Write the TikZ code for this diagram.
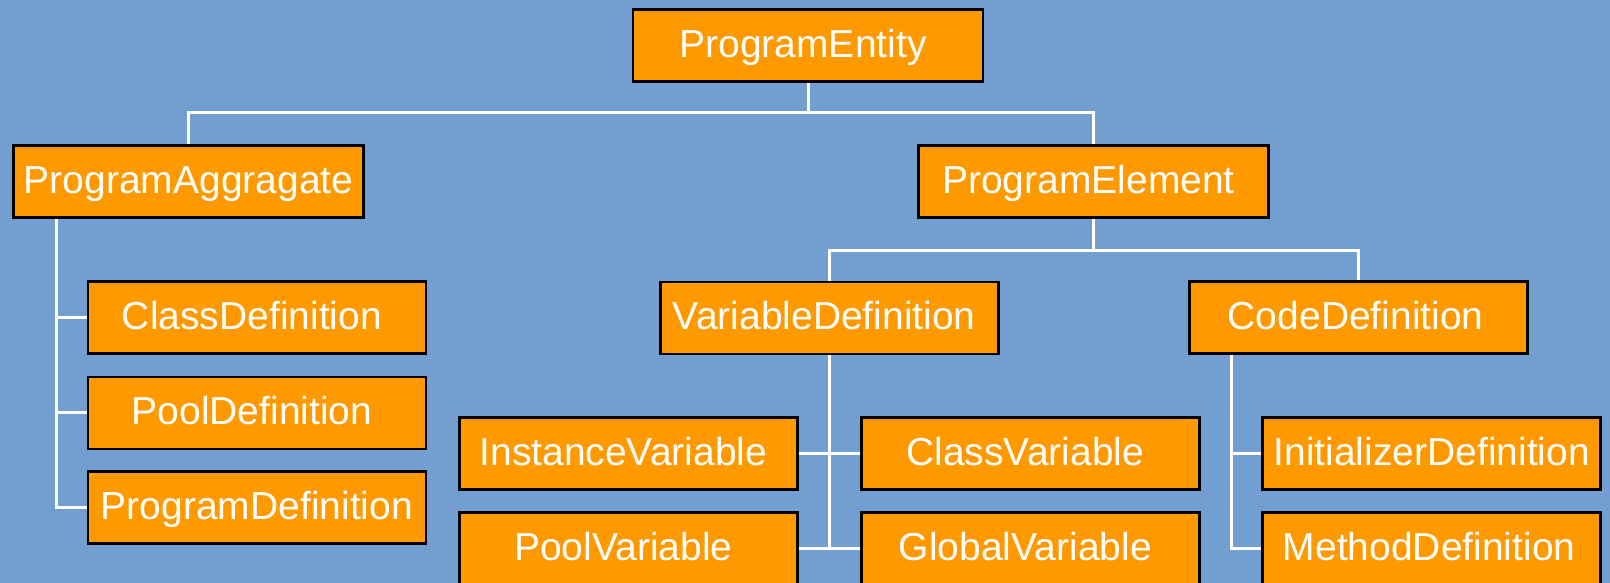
\documentclass[tikz,border=0pt]{standalone}
\usepackage{fontspec}
\setmainfont{Liberation Sans}
\definecolor{bgblue}{RGB}{114,159,207}
\definecolor{boxorange}{RGB}{255,153,0}
\tikzset{
  classbox/.style={draw=black, line width=2.5pt, fill=boxorange, text=white,
    minimum width=338pt, minimum height=72pt, inner sep=0pt,
    text height=28pt, text depth=4pt,
    font=\fontsize{39}{39}\selectfont},
  widebox/.style={classbox, minimum width=350pt},
  % nudge the label a little to the left of the box centre
  nudge/.style={execute at end node={\hspace*{#1}}},
  nudge/.default=10pt,
  link/.style={draw=white, line width=3pt}
}
\begin{document}
\begin{tikzpicture}[x=1pt,y=-1pt]
  \fill[bgblue] (0,0) rectangle (1610,583);
  \useasboundingbox (0,0) rectangle (1610,583);
  \clip (0,0) rectangle (1610,583);

  % tree levels
  \node[widebox,nudge] (entity)    at (808,45.5)    {ProgramEntity};
  \node[widebox]       (aggregate) at (188.7,181.5) {ProgramAggragate};
  \node[widebox,nudge] (element)   at (1093.5,181.3){ProgramElement};

  \node[classbox,nudge] (classdef) at (257,317.7)   {ClassDefinition};
  \node[classbox,nudge] (pooldef)  at (257,412.8)   {PoolDefinition};
  \node[classbox]       (progdef)  at (257,507.5)   {ProgramDefinition};

  \node[classbox,nudge]      (vardef)  at (829.3,317.8) {VariableDefinition};
  \node[classbox,nudge=6pt]  (codedef) at (1358.7,317.7){CodeDefinition};

  \node[classbox,nudge] (instvar)  at (628.3,453.5) {InstanceVariable};
  \node[classbox,nudge] (classvar) at (1030.3,453.5){ClassVariable};
  \node[classbox,nudge] (poolvar)  at (628.3,548.7) {PoolVariable};
  \node[classbox,nudge] (globvar)  at (1030.3,548.7){GlobalVariable};

  \node[classbox]           (initdef) at (1431.7,453.5){InitializerDefinition};
  \node[classbox,nudge=5pt] (methdef) at (1431.7,548.7){MethodDefinition};

  % bus coordinates
  \coordinate (busA) at (808,113);
  \coordinate (busB) at (1093.5,250);
  \coordinate (trunkA) at (56.7,0);
  \coordinate (trunkC) at (1231.7,0);

  % ProgramEntity -> children
  \draw[link] (entity.south) -- (busA);
  \draw[link] (aggregate.north) |- (busA) -| (element.north);

  % ProgramElement -> children
  \draw[link] (element.south) -- (busB);
  \draw[link] (vardef.north) |- (busB) -| (codedef.north);

  % ProgramAggragate -> definitions
  \draw[link] (trunkA |- aggregate.south) -- (trunkA |- progdef.west) -- (progdef.west);
  \draw[link] (trunkA |- classdef.west) -- (classdef.west);
  \draw[link] (trunkA |- pooldef.west) -- (pooldef.west);

  % VariableDefinition -> variables
  \draw[link] (vardef.south) -- (vardef.south |- globvar.west);
  \draw[link] (instvar.east) -- (classvar.west);
  \draw[link] (poolvar.east) -- (globvar.west);

  % CodeDefinition -> definitions
  \draw[link] (trunkC |- codedef.south) -- (trunkC |- methdef.west) -- (methdef.west);
  \draw[link] (trunkC |- initdef.west) -- (initdef.west);
\end{tikzpicture}
\end{document}
